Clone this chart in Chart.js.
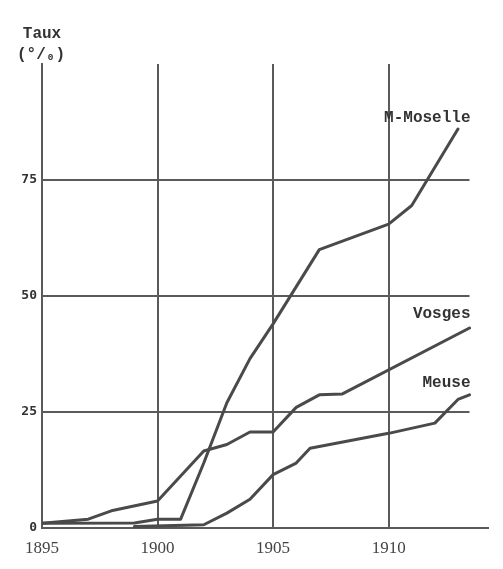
<!DOCTYPE html>
<html>
<head>
<meta charset="utf-8">
<script src="https://cdn.jsdelivr.net/npm/chart.js@4"></script>
<style>
  html, body { margin: 0; padding: 0; background: #fff; }
  canvas { display: block; }
</style>
</head>
<body>
<canvas id="tauxChart" width="503" height="569"></canvas>
<script>
// values (taux pour mille)
const mmYears = [1895, 1899, 1900, 1901, 1902, 1903, 1904, 1905, 1907, 1910, 1911, 1913];
const mmVals  = [1.0, 1.1, 1.9, 1.9, 14, 27, 36.5, 44, 60, 65.5, 69.5, 86];

const vgYears = [1895, 1897, 1898, 1900, 1902, 1903, 1904, 1905, 1906, 1907, 1908, 1913.5];
const vgVals  = [1.0, 1.9, 3.7, 5.8, 16.6, 18, 20.7, 20.7, 26, 28.7, 28.9, 43.1];

const msYears = [1899, 1902, 1903, 1904, 1905, 1906, 1906.6, 1910, 1912, 1913, 1913.5];
const msVals  = [0.3, 0.7, 3.2, 6.2, 11.5, 14, 17.2, 20.4, 22.6, 27.7, 28.7];

const seriesNames = ['M-Moselle', 'Vosges', 'Meuse'];
const xTicks = [1895, 1900, 1905, 1910];
const yTicks = [0, 25, 50, 75];

const ink = '#4a4a4a';
const gridInk = '#5a5a5a';
const gridEnd = 1913.5;          // horizontal rules stop short of the axis end
const labelAnchors = [88.4, 46.1, 31.2];

function pts(xs, ys) {
    return xs.map((x, i) => ({ x: x, y: ys[i] }));
}

function lineSet(label, data) {
    return {
        label: label,
        data: data,
        borderColor: ink,
        borderWidth: 3,
        pointRadius: 0,
        tension: 0,
        fill: false,
        borderJoinStyle: 'round',
        borderCapStyle: 'round'
    };
}

const decor = {
    id: 'decor',
    beforeDatasetsDraw(chart) {
        const { ctx, scales: { x, y } } = chart;
        ctx.save();
        ctx.strokeStyle = gridInk;
        ctx.lineWidth = 2;
        yTicks.filter(v => v > 0).forEach(v => {
            const py = Math.round(y.getPixelForValue(v));
            ctx.beginPath();
            ctx.moveTo(x.getPixelForValue(1895), py);
            ctx.lineTo(x.getPixelForValue(gridEnd), py);
            ctx.stroke();
        });
        ctx.restore();
    },
    afterDraw(chart) {
        const { ctx, scales: { x, y }, chartArea } = chart;
        ctx.save();
        ctx.fillStyle = '#333';
        ctx.font = 'bold 16px "Liberation Mono", monospace';
        ctx.textAlign = 'right';
        ctx.textBaseline = 'middle';
        seriesNames.forEach((name, i) => {
            ctx.fillText(name, x.getPixelForValue(gridEnd) + 1, y.getPixelForValue(labelAnchors[i]));
        });
        ctx.textAlign = 'center';
        ctx.fillText('Taux', chartArea.left, 34);
        ctx.fillText('(°/₀)', chartArea.left - 1, 55);
        ctx.restore();
    }
};

new Chart(document.getElementById('tauxChart').getContext('2d'), {
    type: 'line',
    data: {
        datasets: [
            lineSet(seriesNames[0], pts(mmYears, mmVals)),
            lineSet(seriesNames[1], pts(vgYears, vgVals)),
            lineSet(seriesNames[2], pts(msYears, msVals))
        ]
    },
    options: {
        responsive: false,
        animation: false,
        devicePixelRatio: 1,
        layout: { padding: { top: 64, right: 15, left: 0, bottom: 0 } },
        plugins: { legend: { display: false }, tooltip: { enabled: false } },
        scales: {
            x: {
                type: 'linear',
                min: 1895,
                max: 1914.3,
                afterBuildTicks: (s) => { s.ticks = xTicks.map(v => ({ value: v })); },
                afterFit: (s) => { s.height = 41; },
                grid: { color: gridInk, lineWidth: 2, drawTicks: false },
                border: { display: true, color: gridInk, width: 2 },
                ticks: {
                    padding: 10,
                    color: '#444',
                    font: { family: '"Liberation Serif", serif', size: 17 },
                    callback: (v) => String(v)
                }
            },
            y: {
                min: 0,
                max: 100,
                afterBuildTicks: (s) => { s.ticks = yTicks.map(v => ({ value: v })); },
                afterFit: (s) => { s.width = 42; },
                grid: { display: false, drawTicks: false },
                border: { display: true, color: gridInk, width: 2 },
                ticks: {
                    padding: 5,
                    color: '#333',
                    font: { family: '"DejaVu Sans Mono", monospace', size: 13, weight: 'bold' }
                }
            }
        }
    },
    plugins: [decor]
});
</script>
</body>
</html>
